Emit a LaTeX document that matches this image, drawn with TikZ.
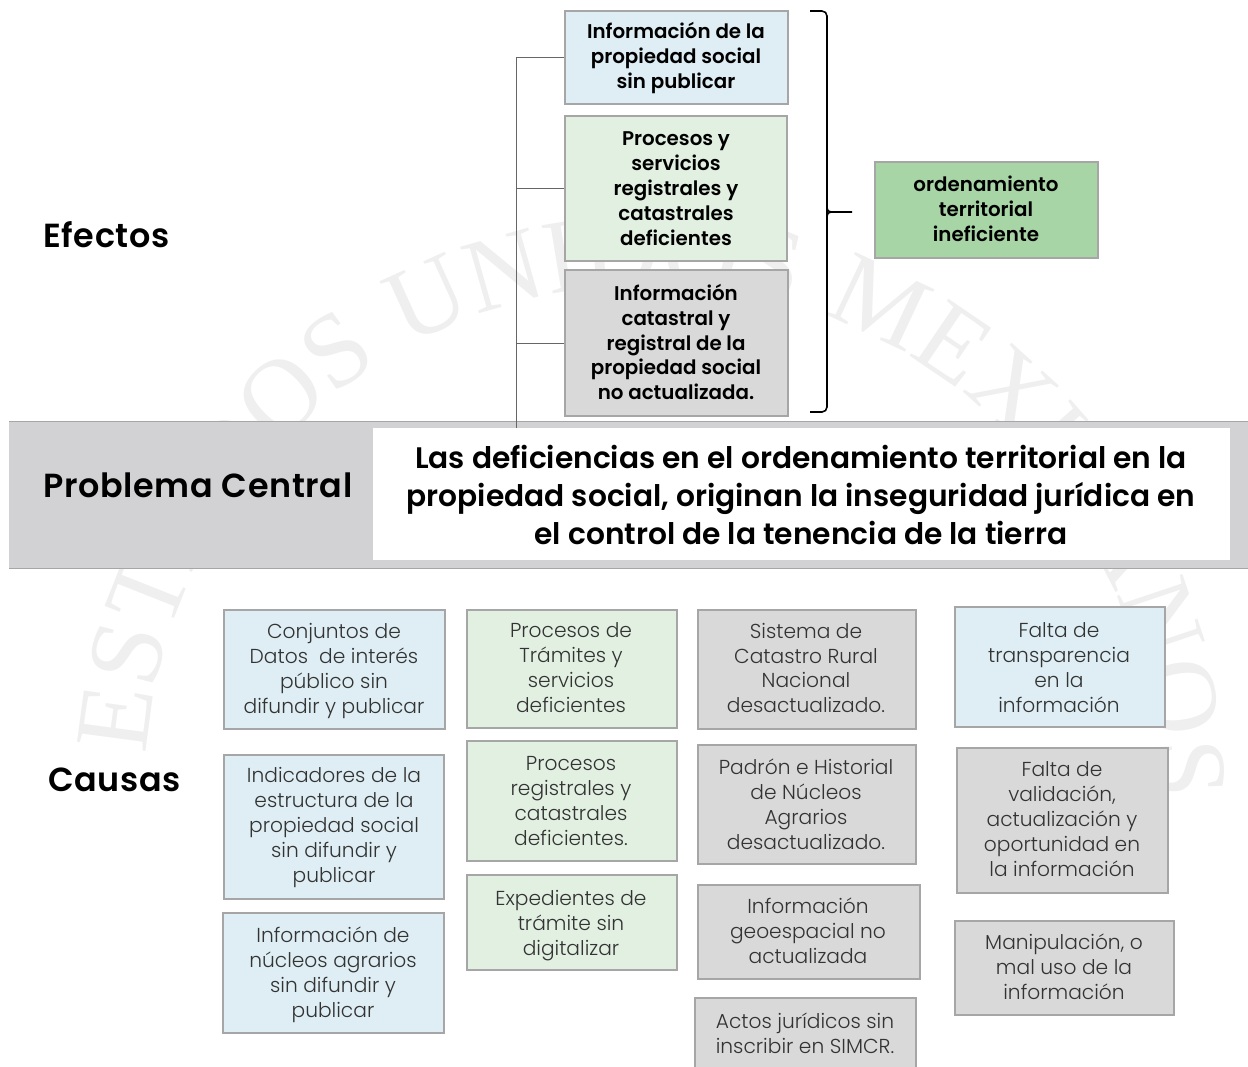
\documentclass[tikz,border=0pt]{standalone}
\usepackage{fontspec}
\setmainfont{Poppins Light}[BoldFont={Poppins SemiBold}]
\newfontfamily\headfont[LetterSpace=2]{Poppins SemiBold}
\newfontfamily\centfont{Poppins SemiBold}
\newfontfamily\sealfont[LetterSpace=4]{Liberation Serif}
\usetikzlibrary{decorations.text}
\definecolor{bluebox}{HTML}{DEEEF4}
\definecolor{greenbox}{HTML}{E2F0E2}
\definecolor{graybox}{HTML}{D9D9D9}
\definecolor{greentarget}{HTML}{A8D5A5}
\definecolor{bandgray}{HTML}{D2D2D4}
\definecolor{boxline}{HTML}{A6A6A6}
\definecolor{seal}{HTML}{EFEFEF}
\tikzset{
  lbl/.style={align=center, font=\fontsize{11.5}{14.2}\selectfont, text=black!80, inner sep=0pt},
  bold/.style={align=center, font=\fontsize{11.3}{14.2}\selectfont\bfseries, inner sep=0pt},
  head/.style={font=\headfont\fontsize{19}{22}\selectfont, inner sep=0pt},
  box/.style n args={2}{draw=boxline, line width=1.3pt, inner sep=0pt,
    minimum width=#1*0.02cm, minimum height=#2*0.02cm}
}
\begin{document}
\begin{tikzpicture}[x=0.02cm, y=-0.02cm]
  \useasboundingbox (0,0) rectangle (1248,1066);
  % watermark
  \path[postaction={decorate, decoration={text along path, text align=left,
    text={|\sealfont\fontsize{60}{60}\selectfont\color{seal}|ESTADOS UNIDOS MEXICANOS}}}]
    (650,790) ++(-176:505) arc[start angle=-176, end angle=20, radius=505];
  % effects
  \node[box={223}{93}, fill=bluebox] (infopub) at (676.5,57.5) {};
  \node[bold] (infopubt) at (676,58) {Información de la\\propiedad social\\sin publicar};
  \node[box={222}{145}, fill=greenbox] (procserv) at (676,188.5) {};
  \node[bold] (procservt) at (676,189) {Procesos y\\servicios\\registrales y\\catastrales\\deficientes};
  \node[box={223}{146}, fill=graybox] (infocat) at (676.5,343) {};
  \node[bold] (infocatt) at (676,342) {Información\\catastral y\\registral de la\\propiedad social\\no actualizada.};
  \node[box={223}{96}, fill=greentarget] (ordena) at (986.5,210) {};
  \node[bold] (ordenat) at (986,209) {ordenamiento\\territorial\\ineficiente};
  \node[head, anchor=west] (efectos) at (43,235) {Efectos};
  % central band
  \fill[bandgray] (9,421) rectangle (1248,568);
  \draw[boxline] (9,421) -- (1248,421);
  \draw[boxline] (9,568) -- (1248,568);
  \node[fill=white, minimum width=857*0.02cm, minimum height=132*0.02cm, inner sep=0pt] (whitebox) at (801.5,494) {};
  \node[head, anchor=west] (problema) at (43,485) {Problema Central};
  \node[align=center, inner sep=0pt, font=\centfont\fontsize{16.9}{21.5}\selectfont] (central) at (801,495)
    {Las deficiencias en el ordenamiento territorial en la\\propiedad social, originan la inseguridad jurídica en\\el control de la tenencia de la tierra};
  \node[head, anchor=west] (causas) at (48,780) {Causas};
  % trunk and branches
  \coordinate (trunk) at (516,428);
  \draw[black!60] (trunk) -- (infopub.west -| trunk) -- (infopub.west);
  \draw[black!60] (procserv.west -| trunk) -- (procserv.west);
  \draw[black!60] (infocat.west -| trunk) -- (infocat.west);
  % bracket
  \coordinate (bractip) at (852,212);
  \draw[black, line width=0.9pt] (810,11) -- (822,11) to[out=0, in=90] (827,16) -- (827,407)
    to[out=-90, in=0] (822,412) -- (810,412);
  \draw[black, line width=0.9pt] (827,208) to[out=-90, in=180] (831,212) -- (bractip);
  \draw[black, line width=0.9pt] (827,216) to[out=90, in=180] (831,212);
  % causes
  \node[box={221}{119}, fill=bluebox] (conj) at (334.5,669.5) {};
  \node[lbl] (conjt) at (334,671) {Conjuntos de\\Datos~~de interés\\público sin\\difundir y publicar};
  \node[box={220}{144}, fill=bluebox] (indic) at (334,827) {};
  \node[lbl] (indict) at (334,827.5) {Indicadores de la\\estructura de la\\propiedad social\\sin difundir y\\publicar};
  \node[box={221}{120}, fill=bluebox] (nucl) at (333.5,973) {};
  \node[lbl] (nuclt) at (333,975) {Información de\\núcleos agrarios\\sin difundir y\\publicar};
  \node[box={210}{118}, fill=greenbox] (tram) at (572,669) {};
  \node[lbl] (tramt) at (571,667.5) {Procesos de\\Trámites y\\servicios\\deficientes};
  \node[box={210}{120}, fill=greenbox] (regis) at (572,801) {};
  \node[lbl] (regist) at (571,801) {Procesos\\registrales y\\catastrales\\deficientes.};
  \node[box={210}{95}, fill=greenbox] (exped) at (572,922.5) {};
  \node[lbl] (expedt) at (571,926) {Expedientes de\\trámite sin\\digitalizar};
  \node[box={218}{119}, fill=graybox] (siste) at (807,669.5) {};
  \node[lbl] (sistet) at (806,668) {Sistema de\\Catastro Rural\\Nacional\\desactualizado.};
  \node[box={218}{119}, fill=graybox] (padron) at (807,804.5) {};
  \node[lbl] (padront) at (806,804) {Padrón e Historial\\de Núcleos\\Agrarios\\desactualizado.};
  \node[box={222}{94}, fill=graybox] (geoes) at (809,932) {};
  \node[lbl] (geoest) at (808,931) {Información\\geoespacial no\\actualizada};
  \node[box={221}{82}, fill=graybox] (actos) at (805.5,1039) {};
  \node[lbl] (actost) at (805,1033) {Actos jurídicos sin\\inscribir en SIMCR.};
  \node[box={210}{120}, fill=bluebox] (transp) at (1060,667) {};
  \node[lbl] (transpt) at (1059,668) {Falta de\\transparencia\\en la\\información};
  \node[box={211}{145}, fill=graybox] (valid) at (1062.5,820.5) {};
  \node[lbl] (validt) at (1062,819) {Falta de\\validación,\\actualización y\\oportunidad en\\la información};
  \node[box={219}{94}, fill=graybox] (manip) at (1064.5,968) {};
  \node[lbl] (manipt) at (1064,967) {Manipulación, o\\mal uso de la\\información};
\end{tikzpicture}
\end{document}
